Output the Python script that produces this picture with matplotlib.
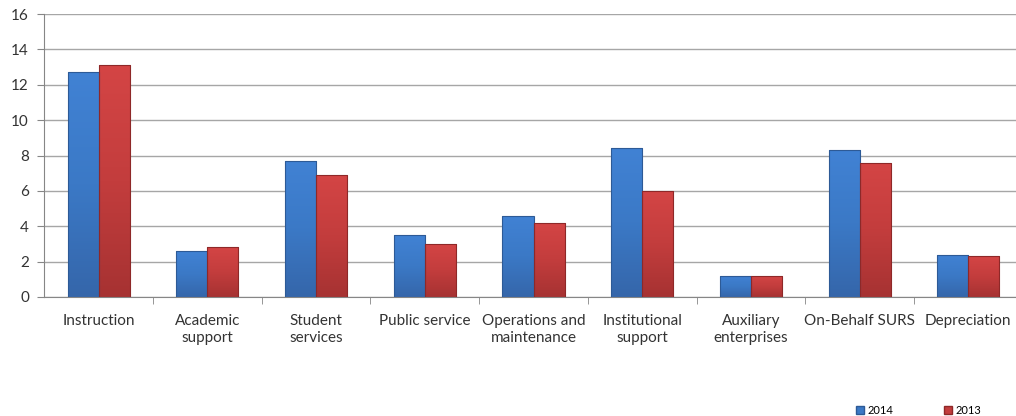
import numpy as np
import matplotlib
matplotlib.use("Agg")
import matplotlib.pyplot as plt
from matplotlib.patches import Patch
from matplotlib.colors import LinearSegmentedColormap

categories = ["Instruction", "Academic\nsupport", "Student\nservices", "Public service",
              "Operations and\nmaintenance", "Institutional\nsupport", "Auxiliary\nenterprises",
              "On-Behalf SURS", "Depreciation"]
vals_2014 = [12.7, 2.6, 7.7, 3.5, 4.6, 8.4, 1.2, 8.3, 2.4]
vals_2013 = [13.1, 2.8, 6.9, 3.0, 4.2, 6.0, 1.2, 7.6, 2.3]
series_names = ["2014", "2013"]
y_ticks = [0, 2, 4, 6, 8, 10, 12, 14, 16]

plt.rcParams['font.family'] = ['Lato', 'DejaVu Sans']

fig = plt.figure(figsize=(10.16, 4.16), dpi=100)
ax = fig.add_axes([44.3 / 1016, 119 / 416, 978.4 / 1016, 283 / 416])

x = np.arange(len(categories))
w = 0.286

# colour ramps for the glossy bars (top light -> bottom dark), kept subtle
blue_cm = LinearSegmentedColormap.from_list("b", ["#3566aa", "#3b79c6", "#4182d4"])
red_cm = LinearSegmentedColormap.from_list("r", ["#a63232", "#c33d3d", "#d44545"])

def glossy(bars, cmap, edge):
    grad = np.linspace(0, 1, 256).reshape(-1, 1)
    for b in bars:
        b.set_facecolor("none")
        b.set_edgecolor(edge)
        b.set_linewidth(0.8)
        x0, y0 = b.get_x(), b.get_y()
        im = ax.imshow(grad, cmap=cmap, aspect="auto", origin="lower",
                       extent=[x0, x0 + b.get_width(), y0, y0 + b.get_height()],
                       zorder=2)
        im.set_clip_path(b)

b1 = ax.bar(x - w / 2, vals_2014, w, zorder=3)
b2 = ax.bar(x + w / 2, vals_2013, w, zorder=3)
glossy(b1, blue_cm, "#2d5a96")
glossy(b2, red_cm, "#8e2828")

ax.set_xlim(-0.5, len(categories) - 0.5)
ax.set_ylim(0, 16)
ax.set_yticks(y_ticks)
ax.yaxis.grid(True, color="#a6a6a6", linewidth=1)
ax.set_axisbelow(True)

ax.set_xticks(x)
ax.set_xticklabels(categories, fontsize=11, color="#333333", linespacing=1.3)
ax.set_xticks(np.arange(len(categories) - 1) + 0.5, minor=True)
ax.tick_params(axis="x", which="major", length=0, pad=12)
ax.tick_params(axis="x", which="minor", length=5, color="#868686")
ax.tick_params(axis="y", length=5, color="#868686", labelsize=11, labelcolor="#333333", pad=6)

for s in ["top", "right"]:
    ax.spines[s].set_visible(False)
for s in ["left", "bottom"]:
    ax.spines[s].set_color("#868686")

handles = [Patch(facecolor="#3b79c6", edgecolor="#2d5a96"),
           Patch(facecolor="#c33d3d", edgecolor="#8e2828")]
fig.legend(handles, series_names, loc="center left", bbox_to_anchor=(856 / 1016, 1 - 410 / 416),
           ncol=2, frameon=False, fontsize=8, handlelength=0.7, handleheight=0.7,
           handletextpad=0.3, columnspacing=4.6, borderpad=0, borderaxespad=0)

fig.savefig("out.png", dpi=100)
